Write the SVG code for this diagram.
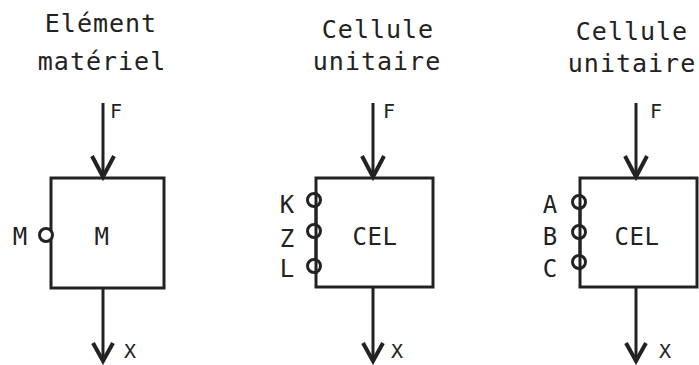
<svg xmlns="http://www.w3.org/2000/svg" width="699" height="365" viewBox="0 0 699 365">
<style>
text{font-family:"DejaVu Sans Mono","Liberation Mono",monospace;fill:#222}
.t{font-size:25px;letter-spacing:1px;text-anchor:middle}
.b{font-size:24px;letter-spacing:0.5px;text-anchor:middle}
.p{font-size:24px;text-anchor:middle}
.s{font-size:20px}
.box{fill:none;stroke:#222;stroke-width:3}
.ln{fill:none;stroke:#222;stroke-width:3}
.hd{fill:none;stroke:#222;stroke-width:4;stroke-linejoin:miter}
.port{fill:#fff;stroke:#222;stroke-width:3}
</style>
<rect width="699" height="365" fill="#fff"/>
<g id="connectors">
<line class="ln" x1="103" y1="103" x2="103" y2="177"/>
<polyline class="hd" points="92,156 103,177 114,156"/>
<line class="ln" x1="103" y1="288" x2="103" y2="361"/>
<polyline class="hd" points="93,343 103,361 113,343"/>
<line class="ln" x1="373" y1="103" x2="373" y2="177"/>
<polyline class="hd" points="362,156 373,177 384,156"/>
<line class="ln" x1="373" y1="287" x2="373" y2="361"/>
<polyline class="hd" points="363,343 373,361 383,343"/>
<line class="ln" x1="636" y1="103" x2="636" y2="177"/>
<polyline class="hd" points="625,156 636,177 647,156"/>
<line class="ln" x1="636" y1="287" x2="636" y2="361"/>
<polyline class="hd" points="626,343 636,361 646,343"/>
<text class="s" x="110" y="118">F</text>
<text class="s" x="124" y="358">X</text>
<text class="s" x="383" y="118">F</text>
<text class="s" x="391" y="358">X</text>
<text class="s" x="650" y="118">F</text>
<text class="s" x="659" y="358">X</text>
</g>
<g id="title1">
<text class="t" x="101" y="32">Elément</text>
<text class="t" x="102" y="70">matériel</text>
</g>
<g id="title2">
<text class="t" x="378" y="38">Cellule</text>
<text class="t" x="377" y="70">unitaire</text>
</g>
<g id="title3">
<text class="t" x="632" y="40">Cellule</text>
<text class="t" x="632" y="72">unitaire</text>
</g>
<g id="node-M">
<rect class="box" x="51" y="178" width="113" height="110"/>
<circle class="port" cx="46" cy="235" r="6.5"/>
<text class="p" x="20" y="245">M</text>
<text class="b" x="102" y="245">M</text>
</g>
<g id="node-CEL1">
<rect class="box" x="316" y="178" width="117" height="109"/>
<circle class="port" cx="314" cy="200" r="6.5"/>
<circle class="port" cx="314" cy="231" r="6.5"/>
<circle class="port" cx="314" cy="266" r="6.5"/>
<line class="ln" x1="316" y1="192" x2="316" y2="274"/>
<text class="p" x="287" y="213">K</text>
<text class="p" x="287" y="247">Z</text>
<text class="p" x="287" y="277">L</text>
<text class="b" x="375" y="245">CEL</text>
</g>
<g id="node-CEL2">
<rect class="box" x="580" y="178" width="117" height="109"/>
<circle class="port" cx="579" cy="202" r="6.5"/>
<circle class="port" cx="579" cy="232" r="6.5"/>
<circle class="port" cx="579" cy="262" r="6.5"/>
<line class="ln" x1="580" y1="194" x2="580" y2="270"/>
<text class="p" x="550" y="213">A</text>
<text class="p" x="550" y="245">B</text>
<text class="p" x="550" y="277">C</text>
<text class="b" x="637" y="245">CEL</text>
</g>
</svg>
